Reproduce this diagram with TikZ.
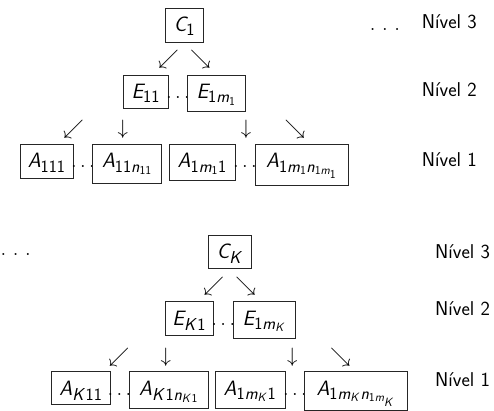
\documentclass[tikz,border=0pt]{standalone}
\DeclareSymbolFont{sfit}{OT1}{cmss}{m}{sl}
\DeclareSymbolFont{sfup}{OT1}{cmss}{m}{n}
\DeclareMathSymbol{A}{\mathalpha}{sfit}{"41}
\DeclareMathSymbol{C}{\mathalpha}{sfit}{"43}
\DeclareMathSymbol{E}{\mathalpha}{sfit}{"45}
\DeclareMathSymbol{K}{\mathalpha}{sfit}{"4B}
\DeclareMathSymbol{m}{\mathalpha}{sfit}{"6D}
\DeclareMathSymbol{n}{\mathalpha}{sfit}{"6E}
\DeclareMathSymbol{1}{\mathalpha}{sfup}{"31}
\DeclareMathSizes{20}{20}{16}{13}
\renewcommand\familydefault{\sfdefault}
\newcommand\wdots{$.\hspace{6.6pt}.\hspace{6.6pt}.$}
\begin{document}
\begin{tikzpicture}[x=1pt,y=-1pt,
  font=\fontsize{20}{24}\selectfont,
  bx/.style={draw=black!85, line width=0.8pt, inner sep=0pt, anchor=base, text height=23.5pt},
  glyph/.style={inner sep=0pt},
  dts/.style={inner sep=0pt, anchor=base},
  lvl/.style={inner sep=0pt, anchor=base west}]
\useasboundingbox (0,0) rectangle (494,411);
% ---------- top block ----------
\node[bx, minimum width=37.6pt, text depth=10.5pt] (c1) at (184.5,31.8) {$C_1$};
\node[dts] (d0) at (385,30.5) {\wdots};
\node[lvl] (l13) at (421.7,28.5) {Nível 3};
\node[glyph] (ar1) at (168.5,59) {$\swarrow$};
\node[glyph] (ar2) at (200.5,59) {$\searrow$};
\node[bx, minimum width=45pt, text depth=9.8pt] (e11) at (145.8,98.5) {$E_{11}$};
\node[dts] (d1) at (178,98.5) {$\ldots$};
\node[bx, minimum width=57.3pt, text depth=12.5pt] (e1m) at (216.3,98.5) {$E_{1m_1}$};
\node[lvl] (l12) at (421.7,96.7) {Nível 2};
\node[glyph] (ar3) at (73.5,129) {$\swarrow$};
\node[glyph] (ar4) at (122.7,129) {$\downarrow$};
\node[glyph] (ar5) at (246,129) {$\downarrow$};
\node[glyph] (ar6) at (295,129) {$\searrow$};
\node[bx, minimum width=53.3pt, text depth=10.3pt] (a111) at (46.7,168) {$A_{111}$};
\node[dts] (d2) at (83,168) {$\ldots$};
\node[bx, minimum width=69pt, text depth=15.3pt] (a11n) at (127.2,168) {$A_{11n_{11}}$};
\node[bx, minimum width=65.7pt, text depth=12pt] (a1m1) at (202.2,168) {$A_{1m_11}$};
\node[dts] (d3) at (245,168) {$\ldots$};
\node[bx, minimum width=93.3pt, text depth=17pt] (a1mn) at (301.7,168) {$A_{1m_1n_{1m_1}}$};
\node[lvl] (l11) at (421.7,166.7) {Nível 1};
% ---------- bottom block ----------
\node[dts] (d4) at (15.7,255) {\wdots};
\node[bx, minimum width=43.4pt, text depth=9.8pt] (ck) at (230,258.5) {$C_K$};
\node[lvl] (l23) at (435,258.3) {Nível 3};
\node[glyph] (br1) at (213.7,286.5) {$\swarrow$};
\node[glyph] (br2) at (245.8,286.5) {$\searrow$};
\node[bx, minimum width=48.3pt, text depth=9.8pt] (ek1) at (189.2,325.2) {$E_{K1}$};
\node[dts] (d5) at (223.3,325.2) {$\ldots$};
\node[bx, minimum width=61.7pt, text depth=13.1pt] (ekm) at (264.2,325.2) {$E_{1m_K}$};
\node[lvl] (l22) at (435,315) {Nível 2};
\node[glyph] (br3) at (119,357) {$\swarrow$};
\node[glyph] (br4) at (165.7,357) {$\downarrow$};
\node[glyph] (br5) at (292.3,357) {$\downarrow$};
\node[glyph] (br6) at (340.5,357) {$\searrow$};
\node[bx, minimum width=58.3pt, text depth=9.5pt] (ak11) at (80.9,395.2) {$A_{K11}$};
\node[dts] (d6) at (119.5,395.2) {$\ldots$};
\node[bx, minimum width=79pt, text depth=13pt] (akn) at (168.8,395.2) {$A_{K1n_{K1}}$};
\node[bx, minimum width=70pt, text depth=13pt] (akm1) at (250,395.2) {$A_{1m_K1}$};
\node[dts] (d7) at (295,395.2) {$\ldots$};
\node[bx, minimum width=103pt, text depth=15.3pt] (akmn) at (355.8,395.2) {$A_{1m_Kn_{1m_K}}$};
\node[lvl] (l21) at (435,386.7) {Nível 1};
\end{tikzpicture}
\end{document}
